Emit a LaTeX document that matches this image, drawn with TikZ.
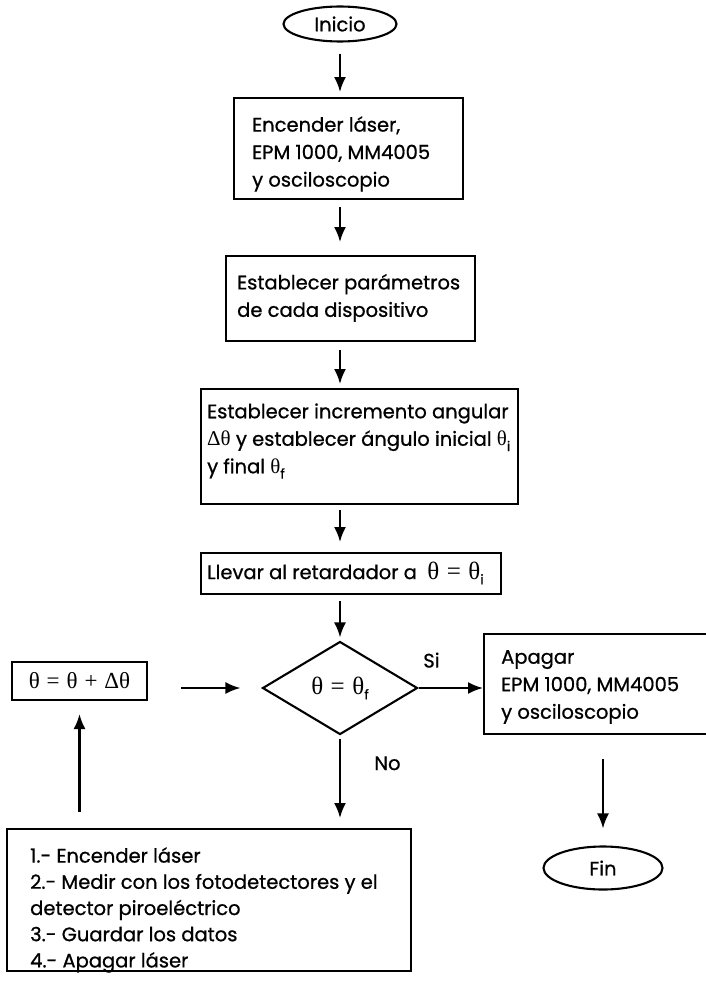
\documentclass[tikz,border=0pt]{standalone}
\usepackage{fontspec}
\setmainfont{Poppins}[FakeBold=0.8]
\newfontfamily\grk{Liberation Serif}
\usetikzlibrary{arrows.meta,shapes.geometric}
\newcommand{\thx}{{\grk\fontsize{21}{21}\selectfont θ}}
\newcommand{\sbx}[1]{\raisebox{-0.5ex}{\fontsize{13.5}{13.5}\selectfont #1}}
\newcommand{\sq}{\hspace{0.3em}}
\begin{document}
\begin{tikzpicture}[x=1pt,y=-1pt,
  every node/.style={font=\fontsize{19.5}{27.5}\selectfont},
  lw/.style={line width=2.1pt},
  box/.style={draw, lw, rectangle, inner sep=0pt, anchor=north west},
  txt/.style={anchor=west, align=left, inner sep=0pt},
  oval/.style={draw, lw, ellipse, inner sep=0pt},
  arr/.style={lw, -{Latex[length=15pt,width=12pt]}},
  big/.style={font=\grk\fontsize{25}{25}\selectfont},
]
\fill[white] (0,0) rectangle (706,982);
\useasboundingbox (0,0) rectangle (706,982);

\node[oval, minimum width=113pt, minimum height=35pt] (ini) at (340,24) {Inicio};

\node[box, minimum width=229pt, minimum height=101pt] (b1) at (233,97) {};
\node[txt] (t1) at (252,154) {Encender láser,\\EPM 1000, MM4005\\y osciloscopio};

\node[box, minimum width=249pt, minimum height=85pt] (b2) at (225,255) {};
\node[txt] (t2) at (237,298) {Establecer parámetros\\de cada dispositivo};

\node[box, minimum width=317pt, minimum height=115pt] (b3) at (200,388) {};
\node[txt] (t3) at (207,441) {Establecer incremento angular\\{\grk\fontsize{21}{21}\selectfont Δθ} y establecer ángulo inicial \thx\sbx{i}\\y final \thx\sbx{f}};

\node[box, minimum width=300pt, minimum height=41pt] (b4) at (200,552) {};
\node[txt] (t4) at (207,573) {Llevar al retardador a \ {\grk\fontsize{25}{25}\selectfont θ\sq=\sq θ}\sbx{i}};

\node[diamond, draw, lw, minimum width=155pt, minimum height=93pt, inner sep=0pt] (dia) at (340,688) {{\grk\fontsize{25}{25}\selectfont θ\sq=\sq θ}\sbx{f}};
\node[draw, lw, minimum width=135pt, minimum height=38pt, inner sep=0pt, font=\grk\fontsize{23}{23}\selectfont] (tb) at (79.5,681) {θ\sq=\sq θ\sq+\sq Δθ};

\node[box, minimum width=240pt, minimum height=100pt] (ap) at (483,633) {};
\node[txt] (apt) at (501,687) {Apagar\\EPM 1000, MM4005\\y osciloscopio};

\node[oval, minimum width=119pt, minimum height=43pt] (fin) at (603,868) {Fin};

\node[box, minimum width=404pt, minimum height=142pt] (bb) at (6,828) {};
\node[txt, font=\fontsize{19.5}{26.2}\selectfont] (bbt) at (30,910) {1.- Encender láser\\2.- Medir con los fotodetectores y el\\detector piroeléctrico\\3.- Guardar los datos\\4.- Apagar láser};

\draw[arr, shorten <=11pt, shorten >=5pt] (ini.south) -- (ini.south |- b1.north);
\draw[arr, shorten <=7pt, shorten >=13pt] (ini.south |- b1.south) -- (ini.south |- b2.north);
\draw[arr, shorten <=8pt, shorten >=4pt] (ini.south |- b2.south) -- (ini.south |- b3.north);
\draw[arr, shorten <=5pt, shorten >=10pt] (ini.south |- b3.south) -- (ini.south |- b4.north);
\draw[arr, shorten <=6pt, shorten >=3pt] (ini.south |- b4.south) -- (dia.north);
\draw[arr, shorten <=33pt, shorten >=21pt] (tb.east |- dia.west) -- (dia.west);
\draw[arr] (dia.east) -- node[above=16pt, pos=0.2]{Si} (ap.west |- dia.east);
\draw[arr, shorten <=3pt, shorten >=10pt] (dia.south) -- node[anchor=west, pos=0.3, xshift=30pt]{No} (dia.south |- bb.north);
\draw[arr, shorten <=16pt, shorten >=13pt] (tb.south |- bb.north) -- (tb.south);
\draw[arr, shorten <=24pt, shorten >=17pt] (fin.north |- ap.south) -- (fin.north);
\end{tikzpicture}
\end{document}
